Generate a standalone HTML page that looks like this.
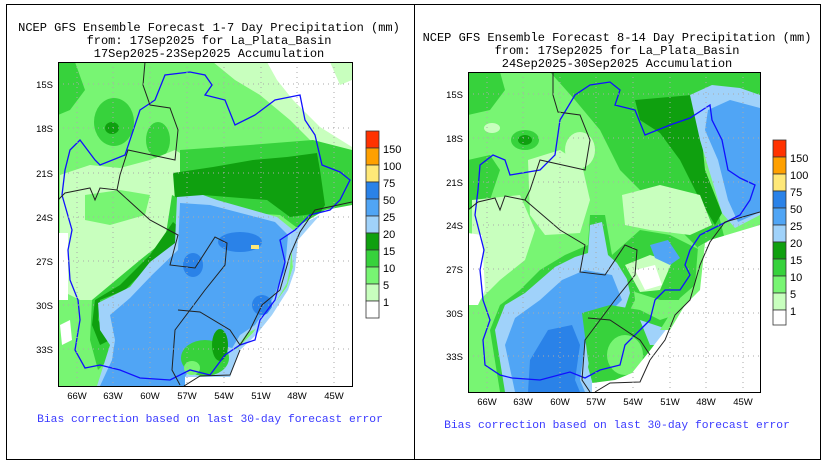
<!DOCTYPE html>
<html><head><meta charset="utf-8"><style>
html,body{margin:0;padding:0;background:#fff;}
svg{display:block;font-family:"Liberation Sans",sans-serif;}
.m{font-family:"Liberation Mono",monospace;}
</style></head><body>
<svg width="828" height="467" viewBox="0 0 828 467" xmlns="http://www.w3.org/2000/svg">
<rect x="0" y="0" width="828" height="467" fill="#fff"/>
<rect x="6.5" y="4.5" width="408" height="455" fill="none" stroke="#000" stroke-width="1"/>
<rect x="414.5" y="4.5" width="406" height="455" fill="none" stroke="#000" stroke-width="1"/>

<!-- LEFT PANEL -->
<g class="m" font-size="12" text-anchor="middle" fill="#000">
<text x="209" y="31">NCEP GFS Ensemble Forecast 1-7 Day Precipitation (mm)</text>
<text x="209" y="44">from: 17Sep2025   for La_Plata_Basin</text>
<text x="209" y="57">17Sep2025-23Sep2025 Accumulation</text>
</g>
<defs><clipPath id="cl"><rect x="58" y="62" width="294" height="324"/></clipPath>
<clipPath id="cr"><rect x="468" y="72" width="292" height="320"/></clipPath></defs>
<g clip-path="url(#cl)">
<rect x="58" y="62" width="294" height="324" fill="#78f573"/>
<path d="M213,62 L267,62 L300,90 L352,115 L352,165 L320,150 L290,120 L260,95 L235,80 Z" fill="#c8ffbe"/>
<path d="M267,62 L352,62 L352,147 L320,127 L293,100 L277,80 Z" fill="#fff"/>
<path d="M330,62 L352,62 L352,80 L340,85 Z" fill="#c8ffbe"/>
<path d="M58,62 L75,62 L85,90 L70,110 L58,115 Z" fill="#37d23c"/>
<ellipse cx="114" cy="122" rx="20" ry="24" fill="#37d23c"/>
<ellipse cx="112" cy="128" rx="7" ry="6" fill="#0fa00f"/>
<ellipse cx="158" cy="140" rx="12" ry="18" fill="#37d23c"/>
<!-- left light green -->
<path d="M60,175 L90,165 L120,168 L150,160 L175,150 L200,165 L175,200 L172,235 L150,255 L125,285 L100,300 L80,300 L60,290 Z" fill="#c8ffbe"/>
<path d="M85,195 L120,190 L150,195 L145,215 L110,225 L85,220 Z" fill="#78f573"/>
<path d="M58,233 L68,233 L68,300 L58,300 Z" fill="#fff"/>
<path d="M60,325 L70,320 L72,340 L62,345 Z" fill="#fff"/>
<!-- east greens -->
<path d="M180,150 L250,145 L313,140 L352,150 L352,230 L300,230 L280,215 L200,210 L180,200 Z" fill="#37d23c"/>
<path d="M173,173 L213,167 L253,160 L287,157 L317,153 L320,170 L325,205 L320,213 L290,217 L267,200 L203,195 L175,200 Z" fill="#0fa00f"/>
<!-- band along blue edge -->
<path d="M172,195 L182,200 L180,240 L150,265 L130,290 L112,300 L105,320 L115,338 L108,360 L98,370 L90,340 L92,300 L110,285 L140,260 L165,240 Z" fill="#37d23c"/>
<path d="M173,222 L180,228 L176,245 L150,265 L125,290 L100,300 L98,320 L110,340 L100,345 L92,325 L95,300 L120,285 L150,255 Z" fill="#0fa00f"/>
<!-- blue -->
<path d="M177,197 L203,195 L217,200 L277,217 L293,230 L290,267 L287,283 L277,300 L260,327 L247,333 L233,353 L217,377 L185,377 L185,386 L97,386 L110,345 L100,330 L98,303 L130,287 L150,262 L175,243 Z" fill="#a0d2fa"/>
<path d="M180,203 L210,205 L275,222 L288,235 L285,270 L272,300 L255,325 L240,335 L225,360 L210,377 L185,377 L185,386 L100,386 L112,360 L115,340 L110,315 L130,298 L152,275 L178,250 Z" fill="#50a5f5"/>
<ellipse cx="240" cy="242" rx="22" ry="10" fill="#2a82e8"/>
<ellipse cx="193" cy="265" rx="10" ry="12" fill="#2a82e8"/>
<ellipse cx="262" cy="305" rx="10" ry="10" fill="#2a82e8"/>
<rect x="251" y="245" width="8" height="4" fill="#ffe878"/>
<path d="M290,233 L293,267 L287,287 L270,310 L253,333 L233,353 L230,377 L185,377 L185,386 L352,386 L352,205 L325,210 L300,225 Z" fill="#fff"/>
<path d="M290,233 L300,225 L320,215 L298,240 L295,270 L288,290 L272,315 L256,335 L240,350 L233,353 L253,333 L270,310 L287,287 L293,267 Z" fill="#a0d2fa"/>
<path d="M185,377 L230,377 L240,350 L220,345 L195,360 Z" fill="#a0d2fa"/>
<ellipse cx="205" cy="358" rx="24" ry="18" fill="#37d23c"/>
<ellipse cx="220" cy="345" rx="8" ry="16" fill="#0fa00f"/>
<ellipse cx="192" cy="368" rx="8" ry="7" fill="#78f573"/>
<!-- basin outline -->
<path d="M70,150 L80,140 L95,160 L100,165 L125,155 L140,110 L155,100 L165,75 L190,72 L205,75 L212,85 L205,95 L225,100 L235,125 L255,115 L275,100 L300,95 L305,120 L315,135 L322,165 L340,172 L350,180 L340,200 L330,210 L310,215 L295,230 L280,240 L285,262 L275,300 L260,320 L255,340 L240,345 L225,355 L210,375 L190,370 L170,380 L140,378 L120,370 L100,365 L85,368 L75,350 L80,320 L78,300 L70,280 L68,250 L72,230 L62,195 L65,170 Z" fill="none" stroke="#1010ff" stroke-width="1.3"/>
<!-- country borders -->
<path d="M145,62 L143,85 L150,105 L170,108 L178,130 L175,160 L128,150 L120,175 L117,190 L100,188 L95,200 L90,188 L65,193 L58,200" fill="none" stroke="#222" stroke-width="1"/>
<path d="M117,190 L150,220 L178,235 L170,265 L195,268 L215,237 L227,243 L225,265 L205,290 L190,310 L175,330 L172,370 L180,385" fill="none" stroke="#222" stroke-width="1"/>
<path d="M178,310 L200,312 L230,330 L240,345" fill="none" stroke="#222" stroke-width="1"/>
<path d="M240,345 L250,330 L262,305 L280,290 L290,255 L300,232 L315,210 L352,202" fill="none" stroke="#222" stroke-width="1"/>
<path d="M184,386 L200,376 L230,375 L240,350" fill="none" stroke="#222" stroke-width="1"/>
</g>
<g stroke="#aaa" stroke-dasharray="1,4" stroke-width="1">
<path d="M77,62V386M113,62V386M150,62V386M187,62V386M224,62V386M261,62V386M297,62V386M334,62V386"/>
<path d="M58,84H352M58,128H352M58,173H352M58,217H352M58,261H352M58,305H352M58,349H352"/>
</g>
<rect x="58.5" y="62.5" width="294" height="324" fill="none" stroke="#000"/>
<g font-size="9.5" fill="#000">
<g text-anchor="end"><text x="53" y="88">15S</text><text x="53" y="132">18S</text><text x="53" y="177">21S</text><text x="53" y="221">24S</text><text x="53" y="265">27S</text><text x="53" y="309">30S</text><text x="53" y="353">33S</text></g>
<g text-anchor="middle"><text x="77" y="399">66W</text><text x="113" y="399">63W</text><text x="150" y="399">60W</text><text x="187" y="399">57W</text><text x="224" y="399">54W</text><text x="261" y="399">51W</text><text x="297" y="399">48W</text><text x="334" y="399">45W</text></g>
</g>
<text class="m" x="210" y="422" font-size="11.3" fill="#3a3aff" text-anchor="middle">Bias correction based on last 30-day forecast error</text>
<g stroke="#333" stroke-width="0.8">
<rect x="366" y="131" width="13" height="17" fill="#ff3200"/><rect x="366" y="148" width="13" height="17" fill="#ffa000"/>
<rect x="366" y="165" width="13" height="17" fill="#ffe878"/><rect x="366" y="182" width="13" height="17" fill="#2a82e8"/>
<rect x="366" y="199" width="13" height="17" fill="#50a5f5"/><rect x="366" y="216" width="13" height="17" fill="#a0d2fa"/>
<rect x="366" y="233" width="13" height="17" fill="#0fa00f"/><rect x="366" y="250" width="13" height="17" fill="#37d23c"/>
<rect x="366" y="267" width="13" height="17" fill="#78f573"/><rect x="366" y="284" width="13" height="17" fill="#c8ffbe"/>
<rect x="366" y="301" width="13" height="17" fill="#fff"/>
</g>
<g font-size="11" fill="#000"><text x="383" y="153">150</text><text x="383" y="170">100</text><text x="383" y="187">75</text><text x="383" y="204">50</text><text x="383" y="221">25</text><text x="383" y="238">20</text><text x="383" y="255">15</text><text x="383" y="272">10</text><text x="383" y="289">5</text><text x="383" y="306">1</text></g>

<!-- RIGHT PANEL -->
<g class="m" font-size="12" text-anchor="middle" fill="#000">
<text x="617" y="41">NCEP GFS Ensemble Forecast 8-14 Day Precipitation (mm)</text>
<text x="617" y="54">from: 17Sep2025   for La_Plata_Basin</text>
<text x="617" y="67">24Sep2025-30Sep2025 Accumulation</text>
</g>
<g clip-path="url(#cr)">
<rect x="468" y="72" width="292" height="320" fill="#78f573"/>
<path d="M550,72 L760,72 L760,100 L720,95 L700,110 L695,140 L715,200 L725,240 L700,250 L680,230 L650,200 L620,170 L600,130 L575,100 Z" fill="#37d23c"/>
<path d="M635,100 L692,95 L700,120 L705,170 L722,213 L715,225 L700,200 L680,160 L660,133 L640,120 Z" fill="#0fa00f"/>
<path d="M468,72 L500,72 L505,90 L490,110 L468,115 Z" fill="#37d23c"/>
<path d="M468,160 L490,155 L500,170 L490,200 L468,210 Z" fill="#37d23c"/>
<ellipse cx="525" cy="140" rx="14" ry="10" fill="#37d23c"/>
<ellipse cx="525" cy="140" rx="7" ry="5" fill="#0fa00f"/>
<ellipse cx="492" cy="128" rx="8" ry="5" fill="#c8ffbe"/>
<!-- east blue -->
<path d="M690,95 L712,85 L740,88 L760,95 L760,215 L735,228 L722,213 L712,180 L700,140 Z" fill="#a0d2fa"/>
<path d="M708,110 L730,100 L760,108 L760,212 L738,222 L728,200 L718,160 L705,130 Z" fill="#50a5f5"/>
<!-- light green areas -->
<path d="M528,160 L560,150 L582,165 L590,200 L580,233 L545,235 L530,215 Z" fill="#c8ffbe"/>
<ellipse cx="580" cy="150" rx="15" ry="18" fill="#c8ffbe"/>
<path d="M622,195 L660,185 L700,195 L712,225 L690,235 L650,230 L625,225 Z" fill="#c8ffbe"/>
<path d="M472,200 L520,195 L535,230 L525,260 L500,280 L480,300 L472,300 Z" fill="#c8ffbe"/>
<path d="M468,233 L482,235 L485,290 L478,305 L468,305 Z" fill="#fff"/>
<!-- SW blue -->
<path d="M500,392 L490,330 L500,305 L520,290 L540,270 L565,255 L588,245 L590,215 L605,215 L612,255 L632,275 L635,300 L625,320 L605,325 L598,345 L592,370 L598,392 Z" fill="#37d23c"/>
<path d="M505,392 L495,330 L505,305 L525,293 L555,267 L575,257 L588,253 L590,225 L602,222 L608,255 L625,270 L630,293 L622,317 L602,320 L595,333 L588,367 L595,392 Z" fill="#a0d2fa"/>
<path d="M515,392 L505,345 L515,318 L540,300 L562,280 L585,270 L612,275 L622,300 L610,312 L595,320 L585,345 L580,380 L585,392 Z" fill="#50a5f5"/>
<path d="M528,392 L530,360 L548,330 L572,325 L580,345 L575,380 L580,392 Z" fill="#2a82e8"/>
<!-- mid-south patchy -->
<path d="M612,255 L640,230 L670,235 L700,250 L705,280 L690,300 L660,300 L635,292 Z" fill="#37d23c"/>
<path d="M625,265 L650,255 L672,262 L660,290 L640,292 Z" fill="#c8ffbe"/>
<path d="M635,270 L655,265 L662,285 L645,290 Z" fill="#fff"/>
<path d="M650,245 L668,240 L680,258 L670,265 L655,258 Z" fill="#50a5f5"/>
<path d="M582,313 L610,305 L640,310 L660,320 L690,310 L700,330 L670,360 L648,383 L595,392 L588,360 Z" fill="#37d23c"/>
<ellipse cx="625" cy="355" rx="18" ry="20" fill="#78f573"/>
<path d="M640,320 L670,330 L672,345 L650,345 Z" fill="#a0d2fa"/>
<!-- white SE -->
<path d="M698,247 L710,240 L760,225 L760,392 L592,392 L592,383 L615,380 L632,373 L648,353 L668,327 L682,300 L698,290 Z" fill="#fff"/>
<path d="M698,247 L705,243 L700,290 L685,305 L670,330 L660,330 L680,298 L695,285 Z" fill="#78f573"/>
<!-- basin outline -->
<path d="M480,165 L493,155 L505,160 L510,175 L540,170 L555,155 L560,120 L575,95 L590,85 L610,82 L620,90 L615,105 L635,110 L645,135 L670,125 L690,118 L710,105 L712,120 L722,140 L728,170 L740,178 L755,185 L750,200 L740,215 L720,225 L700,235 L690,250 L685,265 L690,275 L680,290 L665,290 L655,300 L650,320 L640,330 L625,345 L620,365 L600,370 L585,378 L570,372 L540,380 L512,378 L500,375 L485,365 L483,340 L490,320 L483,300 L480,270 L484,250 L475,215 L478,190 Z" fill="none" stroke="#1010ff" stroke-width="1.3"/>
<!-- country borders -->
<path d="M553,72 L553,95 L558,112 L580,115 L590,140 L585,170 L540,160 L530,190 L525,200 L505,196 L500,210 L495,198 L478,202 L468,210" fill="none" stroke="#222" stroke-width="1"/>
<path d="M525,200 L560,230 L585,245 L580,272 L605,275 L625,245 L637,250 L635,275 L615,300 L600,320 L585,340 L582,380 L590,392" fill="none" stroke="#222" stroke-width="1"/>
<path d="M588,318 L610,320 L640,340 L650,355" fill="none" stroke="#222" stroke-width="1"/>
<path d="M650,360 L665,340 L675,315 L690,300 L700,265 L710,242 L725,222 L760,212" fill="none" stroke="#222" stroke-width="1"/>
<path d="M595,392 L610,383 L640,382 L650,360" fill="none" stroke="#222" stroke-width="1"/>
</g>
<g stroke="#aaa" stroke-dasharray="1,4" stroke-width="1">
<path d="M487,72V392M523,72V392M560,72V392M596,72V392M633,72V392M670,72V392M706,72V392M743,72V392"/>
<path d="M468,94H760M468,138H760M468,182H760M468,225H760M468,269H760M468,313H760M468,356H760"/>
</g>
<rect x="468.5" y="72.5" width="292" height="320" fill="none" stroke="#000"/>
<g font-size="9.5" fill="#000">
<g text-anchor="end"><text x="463" y="98">15S</text><text x="463" y="142">18S</text><text x="463" y="186">21S</text><text x="463" y="229">24S</text><text x="463" y="273">27S</text><text x="463" y="317">30S</text><text x="463" y="360">33S</text></g>
<g text-anchor="middle"><text x="487" y="405">66W</text><text x="523" y="405">63W</text><text x="560" y="405">60W</text><text x="596" y="405">57W</text><text x="633" y="405">54W</text><text x="670" y="405">51W</text><text x="706" y="405">48W</text><text x="743" y="405">45W</text></g>
</g>
<text class="m" x="617" y="428" font-size="11.3" fill="#3a3aff" text-anchor="middle">Bias correction based on last 30-day forecast error</text>
<g stroke="#333" stroke-width="0.8">
<rect x="773" y="140" width="13" height="17" fill="#ff3200"/><rect x="773" y="157" width="13" height="17" fill="#ffa000"/>
<rect x="773" y="174" width="13" height="17" fill="#ffe878"/><rect x="773" y="191" width="13" height="17" fill="#2a82e8"/>
<rect x="773" y="208" width="13" height="17" fill="#50a5f5"/><rect x="773" y="225" width="13" height="17" fill="#a0d2fa"/>
<rect x="773" y="242" width="13" height="17" fill="#0fa00f"/><rect x="773" y="259" width="13" height="17" fill="#37d23c"/>
<rect x="773" y="276" width="13" height="17" fill="#78f573"/><rect x="773" y="293" width="13" height="17" fill="#c8ffbe"/>
<rect x="773" y="310" width="13" height="15" fill="#fff"/>
</g>
<g font-size="11" fill="#000"><text x="790" y="162">150</text><text x="790" y="179">100</text><text x="790" y="196">75</text><text x="790" y="213">50</text><text x="790" y="230">25</text><text x="790" y="247">20</text><text x="790" y="264">15</text><text x="790" y="281">10</text><text x="790" y="298">5</text><text x="790" y="315">1</text></g>
</svg>
</body></html>
